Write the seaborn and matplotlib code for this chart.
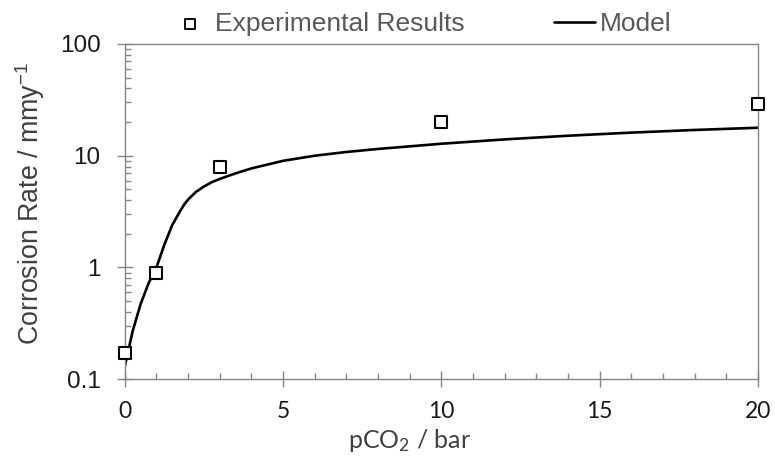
import numpy as np
import pandas as pd
import matplotlib
matplotlib.use("Agg")
import matplotlib.pyplot as plt
from matplotlib.ticker import FixedLocator, FuncFormatter, MultipleLocator, LogLocator
import seaborn as sns

# Measured corrosion rates
exp_pco2 = [0, 1, 3, 10, 20]
exp_rate = [0.17, 0.89, 8.0, 20.0, 29.0]

# Model prediction
model_pco2 = [0, 0.25, 0.5, 0.75, 1.0, 1.25, 1.5, 1.75, 1.875, 2.0, 2.25, 2.5,
              2.75, 3.0, 3.5, 4.0, 5.0, 6.0, 7.0, 8.0, 10.0, 12.0, 14.0, 16.0,
              18.0, 20.0]
model_rate = [0.13, 0.27, 0.47, 0.72, 1.0, 1.6, 2.4, 3.2, 3.65, 4.05, 4.75, 5.3,
              5.8, 6.2, 6.95, 7.7, 9.0, 10.0, 10.8, 11.5, 12.8, 14.0, 15.1, 16.1,
              17.0, 17.8]

x_ticks = [0, 5, 10, 15, 20]
y_ticks = [0.1, 1, 10, 100]

exp_df = pd.DataFrame({"pco2": exp_pco2, "rate": exp_rate})
model_df = pd.DataFrame({"pco2": model_pco2, "rate": model_rate})

sns.set_style("ticks")
plt.rcParams["font.family"] = ["Liberation Sans", "DejaVu Sans"]
plt.rcParams["mathtext.default"] = "regular"

axis_grey = "#868686"
text_grey = "#404040"
humanist = ["Lato", "DejaVu Sans"]

fig = plt.figure(figsize=(7.75, 4.63), dpi=100)
ax = fig.add_axes([0.161, 0.181, 0.817, 0.724])

sns.lineplot(data=model_df, x="pco2", y="rate", ax=ax, color="black",
             linewidth=1.9, label="Model", zorder=2)
sns.scatterplot(data=exp_df, x="pco2", y="rate", ax=ax, marker="s", s=85,
                facecolor="white", edgecolor="black", linewidth=1.5,
                label="Experimental Results", zorder=3, clip_on=False)

ax.set_yscale("log")
ax.set_xlim(0, 20)
ax.set_ylim(0.1, 100)

ax.xaxis.set_major_locator(FixedLocator(x_ticks))
ax.xaxis.set_minor_locator(MultipleLocator(1))
ax.yaxis.set_major_locator(FixedLocator(y_ticks))
ax.yaxis.set_minor_locator(LogLocator(base=10, subs=np.arange(2, 10)))
ax.yaxis.set_major_formatter(FuncFormatter(lambda v, p: f"{v:g}"))
ax.yaxis.set_minor_formatter(FuncFormatter(lambda v, p: ""))

for s in ax.spines.values():
    s.set_color(axis_grey)
    s.set_linewidth(1.0)

ax.tick_params(which="major", direction="inout", length=11, width=1.0,
               color=axis_grey, labelcolor="#1a1a1a")
ax.tick_params(which="minor", direction="in", length=4.5, width=1.0,
               color=axis_grey)
ax.tick_params(axis="y", which="major", labelsize=17.5, pad=12)
ax.tick_params(axis="x", which="major", labelsize=16.5, pad=10)
for lab in ax.get_xticklabels():
    lab.set_family(humanist)

ax.set_xlabel("pCO$_2$ / bar", fontsize=18, color=text_grey, family=humanist)
ax.xaxis.set_label_coords(0.450, -0.143)
ax.set_ylabel("Corrosion Rate / mmy$^{-1}$", fontsize=19.3, color=text_grey)
ax.yaxis.set_label_coords(-0.123, 0.525)

handles, labels = ax.get_legend_handles_labels()
ax.get_legend().remove()
order = [labels.index("Experimental Results"), labels.index("Model")]
leg = fig.legend([handles[i] for i in order], [labels[i] for i in order],
                 loc="center left", bbox_to_anchor=(0.219, 0.948), ncol=2,
                 frameon=False, fontsize=19, labelcolor="#595959",
                 handlelength=1.52, handletextpad=0.2, columnspacing=3.4,
                 borderpad=0, borderaxespad=0)
for h in leg.legend_handles:
    if hasattr(h, "set_sizes"):
        h.set_sizes([50])
        h.set_linewidth(1.4)

fig.savefig("out.png", dpi=100)
